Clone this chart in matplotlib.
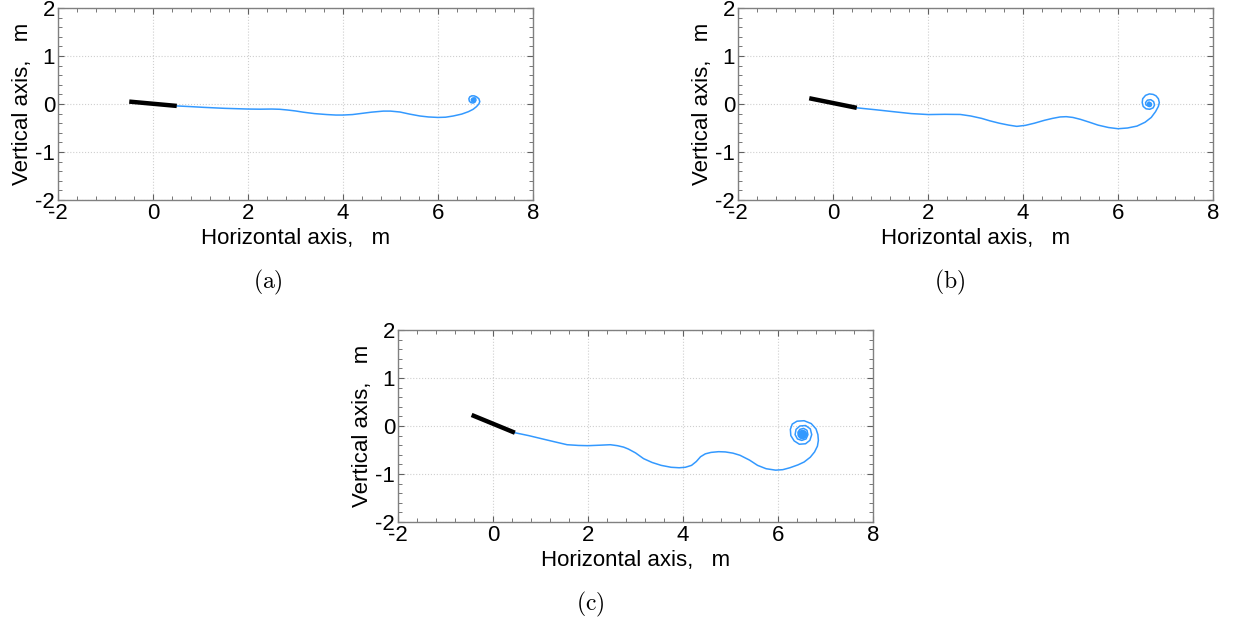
import numpy as np
import matplotlib
matplotlib.use("Agg")
import matplotlib.pyplot as plt
from matplotlib.ticker import MultipleLocator

plt.rcParams['font.family'] = ['Liberation Sans', 'DejaVu Sans']
plt.rcParams['mathtext.fontset'] = 'cm'
plt.rcParams['axes.unicode_minus'] = False

# --- datos ---
# (a)
rod_a_x = [-0.5, 0.5]
rod_a_y = [0.05, -0.04]
path_a_x = [0.5, 0.8, 1.07, 1.5, 2.0, 2.25, 2.5, 2.67, 2.83, 3.0, 3.16, 3.4, 3.66, 3.85, 4.0,
            4.2, 4.36, 4.6, 4.85, 5.0, 5.2, 5.4, 5.62, 5.8, 6.0, 6.16, 6.32, 6.5, 6.64, 6.74,
            6.81, 6.86, 6.88, 6.86, 6.81, 6.76, 6.71, 6.67, 6.65, 6.66, 6.69, 6.74, 6.78, 6.80,
            6.79, 6.76, 6.72, 6.70, 6.71, 6.74, 6.76, 6.76, 6.74, 6.73]
path_a_y = [-0.04, -0.055, -0.07, -0.09, -0.105, -0.108, -0.105, -0.11, -0.125, -0.145, -0.17, -0.2,
            -0.22, -0.23, -0.23, -0.22, -0.2, -0.17, -0.148, -0.148, -0.167, -0.21, -0.25,
            -0.27, -0.28, -0.275, -0.25, -0.21, -0.16, -0.11, -0.055, 0.0, 0.05, 0.11, 0.15,
            0.17, 0.17, 0.15, 0.11, 0.06, 0.03, 0.02, 0.04, 0.08, 0.12, 0.13, 0.12, 0.09, 0.06,
            0.06, 0.08, 0.10, 0.09, 0.08]
core_a = (6.74, 0.08)

# (b)
rod_b_x = [-0.5, 0.5]
rod_b_y = [0.12, -0.08]
path_b_x = [0.5, 0.9, 1.27, 1.65, 2.01, 2.35, 2.68, 2.9, 3.13, 3.3, 3.5, 3.7, 3.87, 4.05, 4.24,
            4.45, 4.62, 4.78, 4.91, 5.05, 5.21, 5.4, 5.58, 5.8, 6.0, 6.2, 6.4, 6.57, 6.7, 6.79,
            6.85, 6.87, 6.85, 6.8, 6.74, 6.66, 6.58, 6.52, 6.51, 6.53, 6.59, 6.67, 6.74, 6.77,
            6.75, 6.69, 6.62, 6.58, 6.59, 6.64, 6.68, 6.68, 6.65, 6.63, 6.64]
path_b_y = [-0.08, -0.12, -0.16, -0.2, -0.22, -0.215, -0.218, -0.25, -0.3, -0.35, -0.4, -0.44,
            -0.466, -0.445, -0.4, -0.34, -0.3, -0.27, -0.264, -0.28, -0.32, -0.38, -0.44, -0.49,
            -0.515, -0.5, -0.46, -0.38, -0.28, -0.16, -0.05, 0.03, 0.11, 0.17, 0.2, 0.21, 0.18,
            0.11, 0.03, -0.05, -0.1, -0.11, -0.08, -0.02, 0.05, 0.09, 0.08, 0.03, -0.02, -0.04,
            -0.02, 0.02, 0.04, 0.02, 0.01]
core_b = (6.65, 0.01)

# (c)
rod_c_x = [-0.45, 0.46]
rod_c_y = [0.23, -0.14]
path_c_x = [0.46, 0.75, 1.07, 1.3, 1.56, 1.8, 2.0, 2.25, 2.47, 2.62, 2.75, 2.85, 3.0, 3.17, 3.35,
            3.54, 3.75, 3.92, 4.05, 4.18, 4.28, 4.37, 4.47, 4.59, 4.75, 4.89, 5.05, 5.2, 5.4, 5.57,
            5.75, 5.95, 6.1, 6.25, 6.42, 6.55, 6.68, 6.77, 6.83, 6.85, 6.84, 6.8, 6.7, 6.55,
            6.4, 6.3, 6.26, 6.27, 6.34, 6.45, 6.58, 6.67, 6.71, 6.68, 6.58, 6.46, 6.38, 6.36,
            6.41, 6.5, 6.59, 6.63, 6.61, 6.54, 6.46, 6.42, 6.43, 6.49, 6.55, 6.57, 6.54, 6.49,
            6.47, 6.49, 6.52, 6.51]
path_c_y = [-0.14, -0.2, -0.276, -0.33, -0.39, -0.405, -0.41, -0.4, -0.39, -0.41, -0.44, -0.48,
            -0.56, -0.68, -0.76, -0.82, -0.86, -0.87, -0.86, -0.82, -0.74, -0.64, -0.58, -0.55,
            -0.535, -0.54, -0.565, -0.61, -0.71, -0.82, -0.89, -0.92, -0.91, -0.87, -0.81, -0.75,
            -0.65, -0.54, -0.42, -0.3, -0.18, -0.06, 0.05, 0.11, 0.1, 0.04, -0.07, -0.2, -0.31,
            -0.38, -0.37, -0.3, -0.18, -0.06, 0.01, 0.0, -0.07, -0.18, -0.27, -0.3, -0.27, -0.18,
            -0.09, -0.05, -0.07, -0.13, -0.21, -0.25, -0.23, -0.17, -0.12, -0.12, -0.16, -0.2,
            -0.19, -0.16]
core_c = (6.5, -0.17)

panels = [
    ("(a)", rod_a_x, rod_a_y, path_a_x, path_a_y, core_a, 3),
    ("(b)", rod_b_x, rod_b_y, path_b_x, path_b_y, core_b, 4),
    ("(c)", rod_c_x, rod_c_y, path_c_x, path_c_y, core_c, 7),
]
# posiciones de los ejes en la figura (px): left, top, y posición del rótulo
boxes = [(58, 8, 0.442), (738, 8, 0.446), (398, 330, 0.404)]

W, H = 1236, 624
fig = plt.figure(figsize=(W / 100, H / 100), dpi=100)
blue = '#3399ff'

for (cap, rx, ry, px, py, core, ms), (l, t, cx) in zip(panels, boxes):
    ax = fig.add_axes([l / W, 1 - (t + 192) / H, 475 / W, 192 / H])
    ax.plot(px, py, color=blue, lw=1.1)
    ax.plot(*core, 'o', color=blue, ms=ms, mew=0)
    ax.plot(rx, ry, color='black', lw=3.2, solid_capstyle='butt')
    ax.set_xlim(-2, 8)
    ax.set_ylim(-2, 2)
    ax.xaxis.set_major_locator(MultipleLocator(2))
    ax.xaxis.set_minor_locator(MultipleLocator(0.4))
    ax.yaxis.set_major_locator(MultipleLocator(1))
    ax.yaxis.set_minor_locator(MultipleLocator(0.2))
    ax.tick_params(which='both', direction='in', top=True, right=True, color='#606060',
                   labelsize=16, pad=2)
    ax.tick_params(which='major', length=4)
    ax.tick_params(which='minor', length=3)
    for s in ax.spines.values():
        s.set_color('#808080')
        s.set_linewidth(1.0)
    ax.grid(True, which='major', ls=':', color='#cfcfcf', lw=0.8)
    ax.set_xlabel("Horizontal axis,   m", fontsize=16, labelpad=3)
    ax.set_ylabel("Vertical axis,   m", fontsize=16, labelpad=2)
    ax.text(cx, -0.43, r'$\mathrm{' + cap + '}$', transform=ax.transAxes,
            ha='center', va='center', fontsize=17)

fig.savefig("out.png", dpi=100)
